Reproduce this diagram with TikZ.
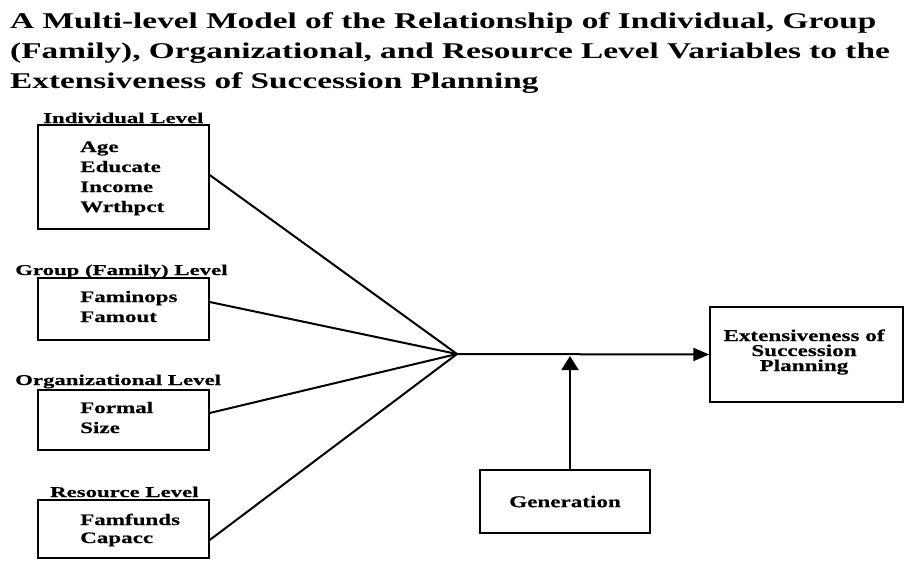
\documentclass[tikz,border=0pt]{standalone}
\usepackage{fontspec}
\setmainfont{Liberation Serif}
% wide faces for the heading and the box texts
\newfontfamily\headface[FakeStretch=1.48]{Liberation Serif}
\newfontfamily\labelface[FakeStretch=1.52,FakeBold=0.4]{Liberation Serif}
\newfontfamily\itemface[FakeStretch=1.44,FakeBold=0.4]{Liberation Serif}
\newfontfamily\outface[FakeStretch=1.4,FakeBold=0.4]{Liberation Serif}
\usetikzlibrary{arrows.meta,calc}

\tikzset{
  levelbox/.style={draw, line width=1.4pt, minimum width=171pt, inner sep=0pt},
  leveltitle/.style={anchor=base west, inner sep=0pt, font=\labelface\bfseries\fontsize{15}{18}\selectfont},
  itemlist/.style={anchor=base west, inner sep=0pt, align=left, font=\itemface\bfseries\fontsize{16}{20}\selectfont},
  link/.style={line width=2pt},
  flow/.style={line width=2pt, -{Triangle[length=16pt,width=13pt]}},
}

\begin{document}
\begin{tikzpicture}[x=1pt,y=-1pt]
  \useasboundingbox (0,0) rectangle (905,560);
  \fill[white] (0,0) rectangle (905,560);

  % heading (anchored at the baseline of its last line)
  \node[anchor=base west, inner sep=0pt, align=left,
        font=\headface\bfseries\fontsize{22.5}{30}\selectfont] (title) at (10,88)
    {A Multi-level Model of the Relationship of Individual, Group\\
     (Family), Organizational, and Resource Level Variables to the\\
     Extensiveness of Succession Planning};

  % predictor boxes
  \node[levelbox, minimum height=104pt] (ind) at (123.5,177) {};
  \node[levelbox, minimum height=62pt]  (grp) at (123.5,309) {};
  \node[levelbox, minimum height=60pt]  (org) at (123.5,420) {};
  \node[levelbox, minimum height=58pt]  (res) at (123.5,529) {};

  \node[leveltitle] (indT) at (43,123) {Individual Level};
  \node[leveltitle] (grpT) at (15,275) {Group (Family) Level};
  \node[leveltitle] (orgT) at (15,385) {Organizational Level};
  \node[leveltitle] (resT) at (50,497) {Resource Level};

  \node[itemlist] (indV) at (80,212) {Age\\Educate\\Income\\Wrthpct};
  \node[itemlist] (grpV) at (80,322) {Faminops\\Famout};
  \node[itemlist] (orgV) at (80,433) {Formal\\Size};
  \node[itemlist, font=\itemface\bfseries\fontsize{16}{18}\selectfont] (resV) at (80,543) {Famfunds\\Capacc};

  % outcome and moderator
  \node[draw, line width=1.4pt, minimum width=193pt, minimum height=95pt, inner sep=0pt]
    (out) at (806.5,354.5) {};
  \node[anchor=base, inner sep=0pt, align=center,
        font=\outface\bfseries\fontsize{16.5}{15}\selectfont] (outT) at (804,371)
    {Extensiveness of\\Succession\\Planning};
  \node[draw, line width=1.4pt, minimum width=170pt, minimum height=63pt, inner sep=0pt,
        font=\outface\bfseries\fontsize{16.5}{20}\selectfont] (gen) at (565,501.5) {Generation};

  % convergence point
  \coordinate (hub) at (457,354);

  \draw[link] ([yshift=2pt]ind.east) -- (hub);
  \draw[link] ([yshift=7pt]grp.east) -- (hub);
  \draw[link] ([yshift=7pt]org.east) -- (hub);
  \draw[link] ([yshift=-11pt]res.east) -- (hub);

  \draw[flow] (hub) -- (out.west);
  \draw[line width=2pt, -{Triangle[length=14pt,width=17pt]}, shorten >=2pt]
    ([xshift=5pt]gen.north) -- ([xshift=5pt]gen.north |- hub);
\end{tikzpicture}
\end{document}
